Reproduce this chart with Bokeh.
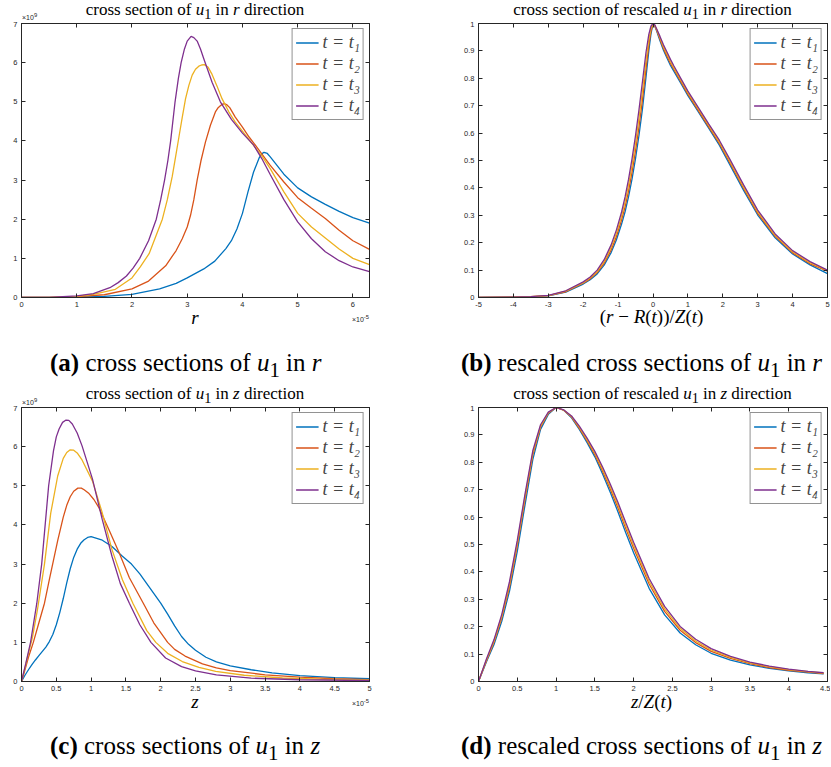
from bokeh.plotting import figure
from bokeh.models import (Legend, LegendItem, LinearAxis, FixedTicker,
                          CustomJSTickFormatter, Range1d, Div)
from bokeh.layouts import column, row
from bokeh.embed import file_html
from bokeh.resources import INLINE

# ---------------- data ----------------
SERIES = ["t = t\u2081", "t = t\u2082", "t = t\u2083", "t = t\u2084"]
COLORS = ["#0072BD", "#D95319", "#EDB120", "#7E2F8E"]

# (a) cross section of u1 in r direction  (r in 1e-5, u1 in 1e9)
a_x1 = [0, 1.0, 1.5, 2.0, 2.5, 2.8, 3.0, 3.3, 3.5, 3.7, 3.8, 3.9, 4.0, 4.1, 4.2, 4.3, 4.35, 4.39, 4.45, 4.5, 4.6, 4.75, 5.0, 5.25, 5.5, 5.75, 6.0, 6.3]
a_y1 = [0, 0.01, 0.03, 0.08, 0.22, 0.36, 0.5, 0.73, 0.93, 1.25, 1.45, 1.75, 2.15, 2.7, 3.2, 3.56, 3.67, 3.71, 3.68, 3.6, 3.42, 3.15, 2.8, 2.57, 2.38, 2.2, 2.04, 1.9]
a_x2 = [0, 0.5, 1.0, 1.5, 2.0, 2.3, 2.61, 2.8, 2.91, 3.0, 3.06, 3.12, 3.18, 3.25, 3.33, 3.42, 3.51, 3.56, 3.6, 3.64, 3.68, 3.72, 3.77, 3.87, 4.0, 4.12, 4.24, 4.36, 4.5, 4.75, 5.0, 5.25, 5.5, 5.75, 6.0, 6.3]
a_y2 = [0, 0.002, 0.02, 0.07, 0.22, 0.42, 0.81, 1.2, 1.5, 1.8, 2.1, 2.5, 3.0, 3.5, 3.97, 4.4, 4.74, 4.85, 4.9, 4.94, 4.95, 4.92, 4.85, 4.61, 4.35, 4.1, 3.88, 3.65, 3.38, 2.95, 2.55, 2.28, 2.02, 1.72, 1.45, 1.23]
a_x3 = [0, 0.5, 1.0, 1.3, 1.7, 2.0, 2.15, 2.31, 2.55, 2.64, 2.73, 2.79, 2.85, 2.91, 2.97, 3.03, 3.09, 3.15, 3.21, 3.26, 3.31, 3.38, 3.45, 3.54, 3.63, 3.75, 3.87, 4.0, 4.12, 4.36, 4.5, 4.75, 5.0, 5.25, 5.5, 5.75, 6.0, 6.3]
a_y3 = [0, 0.003, 0.03, 0.08, 0.21, 0.5, 0.78, 1.12, 2.0, 2.5, 3.1, 3.6, 4.1, 4.6, 5.08, 5.42, 5.68, 5.83, 5.91, 5.94, 5.95, 5.88, 5.7, 5.4, 5.08, 4.75, 4.48, 4.25, 4.03, 3.6, 3.3, 2.7, 2.15, 1.8, 1.52, 1.24, 1.0, 0.84]
a_x4 = [0, 0.5, 1.0, 1.3, 1.6, 1.75, 1.9, 2.02, 2.14, 2.3, 2.44, 2.52, 2.59, 2.65, 2.7, 2.78, 2.84, 2.89, 2.95, 3.0, 3.07, 3.12, 3.18, 3.24, 3.3, 3.45, 3.6, 3.8, 4.0, 4.2, 4.35, 4.5, 4.75, 5.0, 5.25, 5.5, 5.75, 6.0, 6.3]
a_y4 = [0, 0.005, 0.04, 0.1, 0.25, 0.38, 0.55, 0.75, 1.0, 1.45, 2.0, 2.5, 3.0, 3.5, 4.0, 5.0, 5.6, 6.0, 6.35, 6.55, 6.67, 6.64, 6.55, 6.35, 6.1, 5.5, 5.0, 4.55, 4.2, 3.9, 3.55, 3.15, 2.5, 1.93, 1.5, 1.17, 0.94, 0.78, 0.66]

# (b) rescaled cross section in r
b_x = [-5, -4, -3.5, -3, -2.5, -2, -1.8, -1.6, -1.4, -1.2, -1.05, -0.9, -0.8, -0.7, -0.6, -0.5, -0.4, -0.3, -0.2, -0.12, -0.06, 0, 0.05, 0.1, 0.2, 0.3, 0.4, 0.5, 0.6, 0.8, 1.0, 1.3, 1.6, 1.9, 2.2, 2.6, 3.0, 3.5, 4.0, 4.5, 5.0]
b_y1 = [0, 0.001, 0.0025, 0.006, 0.0195, 0.049, 0.065, 0.086, 0.118, 0.164, 0.21, 0.268, 0.313, 0.368, 0.433, 0.508, 0.593, 0.69, 0.805, 0.9, 0.96, 1.0, 0.991, 0.974, 0.937, 0.902, 0.874, 0.847, 0.825, 0.781, 0.737, 0.677, 0.617, 0.556, 0.485, 0.39, 0.301, 0.218, 0.159, 0.119, 0.087]
b_y2 = [0, 0.001, 0.003, 0.007, 0.021, 0.052, 0.068, 0.091, 0.125, 0.173, 0.222, 0.283, 0.331, 0.389, 0.458, 0.536, 0.624, 0.723, 0.835, 0.92, 0.97, 1.0, 0.992, 0.977, 0.942, 0.909, 0.881, 0.854, 0.832, 0.787, 0.742, 0.682, 0.622, 0.562, 0.492, 0.397, 0.307, 0.223, 0.163, 0.123, 0.096]
b_y3 = [0, 0.001, 0.003, 0.007, 0.023, 0.054, 0.072, 0.095, 0.131, 0.183, 0.234, 0.297, 0.349, 0.411, 0.482, 0.564, 0.656, 0.757, 0.865, 0.94, 0.98, 1.0, 0.994, 0.979, 0.948, 0.915, 0.889, 0.862, 0.838, 0.793, 0.748, 0.688, 0.628, 0.568, 0.498, 0.403, 0.313, 0.227, 0.167, 0.127, 0.098]
b_y4 = [0, 0.001, 0.0035, 0.008, 0.0245, 0.057, 0.075, 0.1, 0.138, 0.192, 0.246, 0.312, 0.367, 0.432, 0.507, 0.592, 0.687, 0.79, 0.895, 0.96, 0.99, 1.0, 0.995, 0.982, 0.953, 0.922, 0.896, 0.869, 0.845, 0.799, 0.753, 0.693, 0.633, 0.574, 0.505, 0.41, 0.319, 0.232, 0.171, 0.131, 0.1]

# (c) cross section of u1 in z direction  (z in 1e-5, u1 in 1e9)
c_x1 = [0, 0.05, 0.1, 0.15, 0.2, 0.25, 0.3, 0.35, 0.4, 0.45, 0.5, 0.55, 0.6, 0.65, 0.7, 0.75, 0.8, 0.85, 0.9, 0.95, 1.0, 1.15, 1.3, 1.45, 1.58, 1.7, 1.8, 1.9, 2.0, 2.1, 2.2, 2.3, 2.4, 2.5, 2.65, 2.8, 3.0, 3.3, 3.6, 4.0, 4.5, 5.0]
c_y1 = [0, 0.16, 0.3, 0.43, 0.55, 0.66, 0.77, 0.88, 1.02, 1.2, 1.45, 1.76, 2.12, 2.52, 2.88, 3.17, 3.38, 3.53, 3.62, 3.68, 3.7, 3.62, 3.45, 3.2, 3.0, 2.75, 2.5, 2.25, 2.0, 1.72, 1.42, 1.15, 0.95, 0.8, 0.62, 0.5, 0.4, 0.3, 0.22, 0.15, 0.1, 0.07]
c_x2 = [0, 0.05, 0.1, 0.17, 0.25, 0.33, 0.4, 0.46, 0.52, 0.6, 0.65, 0.7, 0.75, 0.81, 0.86, 0.9, 0.97, 1.04, 1.11, 1.25, 1.4, 1.55, 1.75, 1.9, 2.1, 2.2, 2.35, 2.6, 2.8, 3.0, 3.5, 4.0, 4.5, 5.0]
c_y2 = [0, 0.3, 0.62, 1.0, 1.5, 2.0, 2.6, 3.1, 3.6, 4.2, 4.5, 4.72, 4.86, 4.94, 4.94, 4.9, 4.8, 4.65, 4.45, 3.9, 3.3, 2.65, 2.0, 1.5, 1.0, 0.82, 0.65, 0.45, 0.35, 0.28, 0.17, 0.11, 0.07, 0.05]
c_x3 = [0, 0.05, 0.1, 0.16, 0.23, 0.33, 0.42, 0.52, 0.6, 0.65, 0.7, 0.75, 0.8, 0.87, 1.02, 1.16, 1.3, 1.45, 1.6, 1.8, 1.93, 2.1, 2.31, 2.55, 2.79, 3.2, 3.75, 4.3, 5.0]
c_y3 = [0, 0.35, 0.72, 1.15, 1.84, 3.0, 4.3, 5.25, 5.7, 5.85, 5.92, 5.91, 5.84, 5.66, 5.12, 4.31, 3.37, 2.6, 2.0, 1.3, 1.0, 0.72, 0.51, 0.36, 0.26, 0.16, 0.09, 0.06, 0.04]
c_x4 = [0, 0.06, 0.13, 0.22, 0.29, 0.32, 0.39, 0.46, 0.5, 0.54, 0.59, 0.64, 0.68, 0.73, 0.8, 0.87, 1.02, 1.16, 1.3, 1.42, 1.55, 1.7, 1.86, 2.07, 2.3, 2.5, 2.8, 3.3, 4.0, 5.0]
c_y4 = [0, 0.45, 1.0, 2.0, 3.0, 3.6, 5.0, 5.9, 6.25, 6.45, 6.62, 6.68, 6.67, 6.58, 6.35, 6.02, 5.17, 4.14, 3.2, 2.5, 2.0, 1.45, 1.0, 0.6, 0.38, 0.27, 0.17, 0.085, 0.045, 0.025]

# (d) rescaled cross section in z
d_x = [0, 0.1, 0.2, 0.3, 0.4, 0.5, 0.6, 0.7, 0.8, 0.9, 1.0, 1.1, 1.2, 1.3, 1.4, 1.5, 1.6, 1.7, 1.8, 1.9, 2.0, 2.2, 2.4, 2.6, 2.8, 3.0, 3.25, 3.5, 3.75, 4.0, 4.25, 4.45]
d_y1 = [0, 0.07, 0.135, 0.22, 0.33, 0.475, 0.645, 0.81, 0.92, 0.975, 1.0, 0.99, 0.962, 0.92, 0.872, 0.82, 0.757, 0.69, 0.618, 0.542, 0.47, 0.34, 0.243, 0.177, 0.134, 0.103, 0.078, 0.061, 0.048, 0.039, 0.032, 0.028]
d_y2 = [0, 0.074, 0.143, 0.232, 0.345, 0.495, 0.665, 0.826, 0.928, 0.979, 1.0, 0.99, 0.965, 0.924, 0.878, 0.828, 0.767, 0.702, 0.632, 0.557, 0.486, 0.356, 0.256, 0.187, 0.142, 0.11, 0.084, 0.065, 0.051, 0.041, 0.034, 0.029]
d_y3 = [0, 0.077, 0.148, 0.238, 0.355, 0.505, 0.675, 0.834, 0.932, 0.981, 1.0, 0.99, 0.967, 0.928, 0.883, 0.834, 0.775, 0.711, 0.642, 0.568, 0.497, 0.366, 0.265, 0.194, 0.148, 0.115, 0.088, 0.068, 0.054, 0.043, 0.036, 0.031]
d_y4 = [0, 0.08, 0.153, 0.245, 0.365, 0.515, 0.685, 0.842, 0.937, 0.983, 1.0, 0.991, 0.969, 0.932, 0.888, 0.84, 0.783, 0.72, 0.652, 0.579, 0.508, 0.376, 0.274, 0.201, 0.154, 0.12, 0.092, 0.071, 0.056, 0.045, 0.037, 0.032]

# tick positions
a_xticks = [0, 1, 2, 3, 4, 5, 6]
u_yticks = [0, 1, 2, 3, 4, 5, 6, 7]
b_xticks = [-5, -4, -3, -2, -1, 0, 1, 2, 3, 4, 5]
n_yticks = [0, 0.1, 0.2, 0.3, 0.4, 0.5, 0.6, 0.7, 0.8, 0.9, 1]
c_xticks = [0, 0.5, 1, 1.5, 2, 2.5, 3, 3.5, 4, 4.5, 5]
d_xticks = [0, 0.5, 1, 1.5, 2, 2.5, 3, 3.5, 4, 4.5]

# ---------------- styling helpers ----------------
AX = "#262626"
FMT = "var v = Math.round(tick*1000)/1000; return v.toString();"


def make_axis(ticks, show):
    ax = LinearAxis(ticker=FixedTicker(ticks=ticks),
                    formatter=CustomJSTickFormatter(code=FMT))
    ax.major_tick_in = 4
    ax.major_tick_out = 0
    ax.minor_tick_in = 0
    ax.minor_tick_out = 0
    ax.axis_line_color = AX
    ax.major_tick_line_color = AX
    ax.major_label_text_font = "Liberation Sans"
    if show:
        ax.major_label_text_color = AX
        ax.major_label_text_font_size = "7.5px"
        ax.major_label_standoff = 4
    else:
        ax.major_label_text_color = None
        ax.major_label_text_font_size = "1px"
        ax.major_label_standoff = 0
    return ax


def panel(w, h, xr, yr, xt, yt, mbl, mbr, xs, ys):
    p = figure(width=w, height=h, x_range=Range1d(*xr), y_range=Range1d(*yr),
               output_backend="svg", toolbar_location=None, title=None,
               x_axis_type=None, y_axis_type=None,
               min_border_left=mbl, min_border_right=mbr,
               min_border_top=2, min_border_bottom=14)
    p.background_fill_color = "white"
    p.border_fill_color = "white"
    p.outline_line_color = AX
    p.outline_line_width = 1
    p.add_layout(make_axis(xt, True), "below")
    p.add_layout(make_axis(yt, True), "left")
    p.add_layout(make_axis(xt, False), "above")
    p.add_layout(make_axis(yt, False), "right")

    items = []
    for x, y, c, name in zip(xs, ys, COLORS, SERIES):
        r = p.line(x, y, line_color=c, line_width=1.3)
        items.append(LegendItem(label=name, renderers=[r]))
    leg = Legend(items=items, location="top_right", margin=5, padding=3,
                 spacing=0, glyph_width=23, glyph_height=19, label_height=19,
                 label_standoff=4, label_text_font="Liberation Serif",
                 label_text_font_style="italic", label_text_font_size="18px",
                 border_line_color=AX, border_line_width=1,
                 background_fill_color="white", background_fill_alpha=1)
    p.add_layout(leg)
    return p


pa = panel(440, 290, (0, 6.3), (0, 7), a_xticks, u_yticks, 21, 71,
           [a_x1, a_x2, a_x3, a_x4], [a_y1, a_y2, a_y3, a_y4])
pb = panel(390, 290, (-5, 5), (0, 1), b_xticks, n_yticks, 38, 3,
           [b_x] * 4, [b_y1, b_y2, b_y3, b_y4])
pc = panel(440, 290, (0, 5), (0, 7), c_xticks, u_yticks, 21, 71,
           [c_x1, c_x2, c_x3, c_x4], [c_y1, c_y2, c_y3, c_y4])
pd = panel(390, 290, (0, 4.5), (0, 1), d_xticks, n_yticks, 38, 3,
           [d_x] * 4, [d_y1, d_y2, d_y3, d_y4])

# ---------------- text rows (titles, axis labels, captions) ----------------
SERIF = "Liberation Serif"
SANS = "Liberation Sans"
ASC = {SERIF: 0.8375, SANS: 0.8465}


def span(html, x, base, fs, font=SERIF, align="left", color="#000"):
    top = base - ASC[font] * fs
    tr = {"left": "none", "center": "translateX(-50%)", "right": "translateX(-100%)"}[align]
    return ('<span style="position:absolute;left:%.1fpx;top:%.1fpx;font-family:\'%s\';'
            'font-size:%spx;line-height:1;white-space:nowrap;color:%s;transform:%s">%s</span>'
            % (x, top, font, fs, color, tr, html))


def text_row(h, spans):
    html = ('<div style="position:relative;width:830px;height:%dpx;overflow:visible">%s</div>'
            % (h, "".join(spans)))
    return Div(text=html, width=830, height=h, margin=0)


U1 = "<i>u</i><sub>1</sub>"
T_A = "cross section of %s in <i>r</i> direction" % U1
T_B = "cross section of rescaled %s in <i>r</i> direction" % U1
T_C = "cross section of %s in <i>z</i> direction" % U1
T_D = "cross section of rescaled %s in <i>z</i> direction" % U1
XL_A = "<i>r</i>"
XL_B = "(<i>r</i> \u2212 <i>R</i>(<i>t</i>))/<i>Z</i>(<i>t</i>)"
XL_C = "<i>z</i>"
XL_D = "<i>z</i>/<i>Z</i>(<i>t</i>)"
CAP_A = "<b>(a)</b> cross sections of %s in <i>r</i>" % U1
CAP_B = "<b>(b)</b> rescaled cross sections of %s in <i>r</i>" % U1
CAP_C = "<b>(c)</b> cross sections of %s in <i>z</i>" % U1
CAP_D = "<b>(d)</b> rescaled cross sections of %s in <i>z</i>" % U1
Y_EXP = "\u00d710<sup>9</sup>"
X_EXP = "\u00d710<sup>-5</sup>"

row_top = text_row(21, [
    span(T_A, 195, 15, 17, align="center"),
    span(T_B, 652.5, 15, 17, align="center"),
    span(Y_EXP, 22, 19, 7, font=SANS, color=AX),
])
row_mid = text_row(94, [
    span(XL_A, 195, 13, 19, align="center"),
    span(X_EXP, 369, 10, 7, font=SANS, align="right", color=AX),
    span(XL_B, 651.5, 12, 19, align="center"),
    span(CAP_A, 50, 60, 25),
    span(CAP_B, 461, 60, 25),
    span(T_C, 195, 88, 17, align="center"),
    span(T_D, 652.5, 88, 17, align="center"),
    span(Y_EXP, 22, 93, 7, font=SANS, color=AX),
])
row_bot = text_row(70, [
    span(XL_C, 195, 13, 19, align="center"),
    span(X_EXP, 369, 10, 7, font=SANS, align="right", color=AX),
    span(XL_D, 651.5, 13, 19, align="center"),
    span(CAP_C, 50, 59, 25),
    span(CAP_D, 461, 59, 25),
])

layout = column(row_top, row(pa, pb), row_mid, row(pc, pd), row_bot)

open("out.html", "w").write(file_html(layout, INLINE, title="cross sections of u1"))
